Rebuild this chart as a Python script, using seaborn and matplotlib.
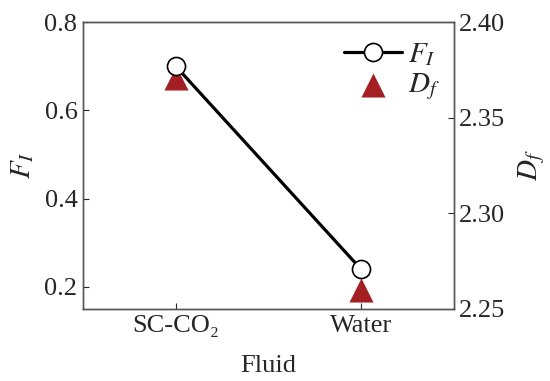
import matplotlib
matplotlib.use("Agg")
import matplotlib.pyplot as plt
import seaborn as sns
import pandas as pd

fluids = ["SC-CO₂", "Water"]
f_i = [0.70, 0.24]
d_f = [2.371, 2.260]

df = pd.DataFrame({"Fluid": fluids, "FI": f_i, "Df": d_f})

sns.set_style("ticks")
plt.rcParams["font.family"] = ["Liberation Serif", "DejaVu Serif"]
plt.rcParams["mathtext.fontset"] = "stix"
plt.rcParams["xtick.direction"] = "in"
plt.rcParams["ytick.direction"] = "in"

fig, ax = plt.subplots(figsize=(5.5, 3.81), dpi=100)
sns.lineplot(data=df, x="Fluid", y="FI", ax=ax, color="black", lw=2.3,
             marker="o", markersize=13, markerfacecolor="white",
             markeredgecolor="black", markeredgewidth=1.2, label="$F_I$",
             legend=False, zorder=3)
ax.set_xlim(-0.5, 1.5)
ax.set_ylim(0.15, 0.8)
ax.set_yticks([0.2, 0.4, 0.6, 0.8])
ax.set_xlabel("Fluid", fontsize=19, labelpad=13)
ax.set_ylabel("$F_I$", fontsize=21, labelpad=6)
ax.tick_params(labelsize=19, length=4, width=0.8, pad=4)

ax2 = ax.twinx()
sns.scatterplot(data=df, x="Fluid", y="Df", ax=ax2, color="#a31f23",
                marker="^", s=300, linewidth=0, label="$D_f$", legend=False,
                zorder=2)
ax2.set_ylim(2.25, 2.40)
ax2.set_yticks([2.25, 2.30, 2.35, 2.40])
ax2.set_yticklabels(["2.25", "2.30", "2.35", "2.40"])
ax2.set_ylabel("$D_f$", fontsize=21, labelpad=8)
ax2.tick_params(labelsize=19, length=4, width=0.8, direction="in", pad=4)
ax.set_zorder(ax2.get_zorder() + 1)
ax.patch.set_visible(False)

for a in (ax, ax2):
    for s in a.spines.values():
        s.set_linewidth(1.0)
        s.set_color("#555555")

h1, l1 = ax.get_legend_handles_labels()
h2, l2 = ax2.get_legend_handles_labels()
ax.legend(h1 + h2, l1 + l2, loc="upper right", bbox_to_anchor=(1.01, 0.995),
          frameon=False, fontsize=21, handlelength=2.0, handletextpad=0.2,
          labelspacing=0.12, borderaxespad=0.2)

plt.subplots_adjust(left=0.151, right=0.825, top=0.942, bottom=0.189)
fig.savefig("out.png", dpi=100)
